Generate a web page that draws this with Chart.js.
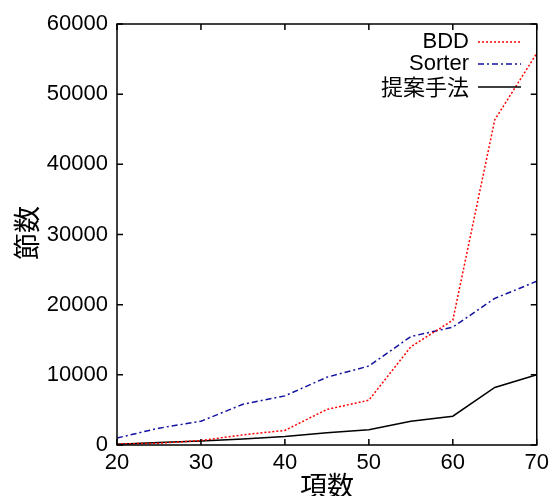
<!DOCTYPE html>
<html>
<head>
<meta charset="utf-8">
<script src="https://cdn.jsdelivr.net/npm/chart.js@4"></script>
<style>
  body { margin: 0; background: #fff; }
  canvas { display: block; }
</style>
</head>
<body>
<canvas id="myChart" width="554" height="496"></canvas>
<script>
// 項数 (x) と各手法の節数
const terms = [20, 25, 30, 35, 40, 45, 50, 55, 60, 65, 70];
const bdd = [150, 250, 630, 1450, 2080, 5070, 6380, 14000, 17780, 46350, 55830];
const sorter = [1000, 2400, 3380, 5800, 7000, 9660, 11250, 15460, 16800, 20900, 23330];
const proposed = [100, 340, 580, 870, 1200, 1740, 2170, 3380, 4100, 8200, 10000];
const xTicks = [20, 30, 40, 50, 60, 70];
const yTicks = [0, 10000, 20000, 30000, 40000, 50000, 60000];

const latin = '"Liberation Sans", Arial, sans-serif';
const cjk = '"Noto Sans CJK JP", sans-serif';

function points(vals) {
    return terms.map((x, i) => ({ x: x, y: vals[i] }));
}

// 枠、内向きの目盛り、軸タイトル、凡例
const frame = {
    id: 'frame',
    afterDraw(chart) {
        const ctx = chart.ctx;
        const a = chart.chartArea;
        const xs = chart.scales.x, ys = chart.scales.y;
        ctx.save();
        ctx.strokeStyle = '#000';
        ctx.lineWidth = 1.5;
        ctx.strokeRect(a.left, a.top, a.right - a.left, a.bottom - a.top);
        ctx.beginPath();
        xTicks.forEach(v => {
            const px = xs.getPixelForValue(v);
            ctx.moveTo(px, a.bottom); ctx.lineTo(px, a.bottom - 6);
            ctx.moveTo(px, a.top); ctx.lineTo(px, a.top + 6);
        });
        yTicks.forEach(v => {
            const py = ys.getPixelForValue(v);
            ctx.moveTo(a.left, py); ctx.lineTo(a.left + 6, py);
            ctx.moveTo(a.right, py); ctx.lineTo(a.right - 6, py);
        });
        ctx.stroke();

        // 軸タイトル
        ctx.fillStyle = '#000';
        ctx.font = '27px ' + cjk;
        ctx.textAlign = 'center';
        ctx.textBaseline = 'middle';
        ctx.fillText('項数', (a.left + a.right) / 2, 486);
        ctx.save();
        ctx.translate(27, 233);
        ctx.rotate(-Math.PI / 2);
        ctx.fillText('節数', 0, 0);
        ctx.restore();

        // 凡例 (文字が左、線見本が右)
        const rows = [42, 64, 87];
        chart.data.datasets.forEach((ds, i) => {
            const y = rows[i];
            ctx.font = (i === 2 ? '22px ' + cjk : '22px ' + latin);
            ctx.textAlign = 'right';
            ctx.fillStyle = '#000';
            ctx.fillText(ds.label, 469, y);
            ctx.beginPath();
            ctx.strokeStyle = ds.borderColor;
            ctx.lineWidth = ds.borderWidth;
            ctx.setLineDash(ds.borderDash || []);
            ctx.moveTo(478, y);
            ctx.lineTo(521, y);
            ctx.stroke();
            ctx.setLineDash([]);
        });
        ctx.restore();
    }
};

const config = {
    type: 'line',
    data: {
        datasets: [
            {
                label: 'BDD',
                data: points(bdd),
                borderColor: '#ff0000',
                borderWidth: 1.5,
                borderDash: [2, 2],
                pointRadius: 0,
                tension: 0
            },
            {
                label: 'Sorter',
                data: points(sorter),
                borderColor: '#1212a0',
                borderWidth: 1.5,
                borderDash: [6, 3, 2, 3],
                pointRadius: 0,
                tension: 0
            },
            {
                label: '提案手法',
                data: points(proposed),
                borderColor: '#000000',
                borderWidth: 1.5,
                pointRadius: 0,
                tension: 0
            }
        ]
    },
    options: {
        responsive: false,
        animation: false,
        layout: { padding: { top: 24, right: 14, left: 0, bottom: 0 } },
        plugins: {
            legend: { display: false },
            tooltip: { enabled: false }
        },
        scales: {
            x: {
                type: 'linear',
                min: 20,
                max: 70,
                afterBuildTicks: s => { s.ticks = xTicks.map(v => ({ value: v })); },
                afterFit: s => { s.height = 51; },
                grid: { display: false, drawTicks: false },
                border: { display: false },
                ticks: {
                    color: '#000', font: { family: latin, size: 22 }, padding: 5, maxRotation: 0,
                    callback: v => String(v)
                }
            },
            y: {
                min: 0,
                max: 60000,
                afterBuildTicks: s => { s.ticks = yTicks.map(v => ({ value: v })); },
                afterFit: s => { s.width = 117; },
                grid: { display: false, drawTicks: false },
                border: { display: false },
                ticks: {
                    color: '#000', font: { family: latin, size: 22 }, padding: 9,
                    callback: v => String(v)
                }
            }
        }
    },
    plugins: [frame]
};

new Chart(document.getElementById('myChart'), config);
</script>
</body>
</html>
